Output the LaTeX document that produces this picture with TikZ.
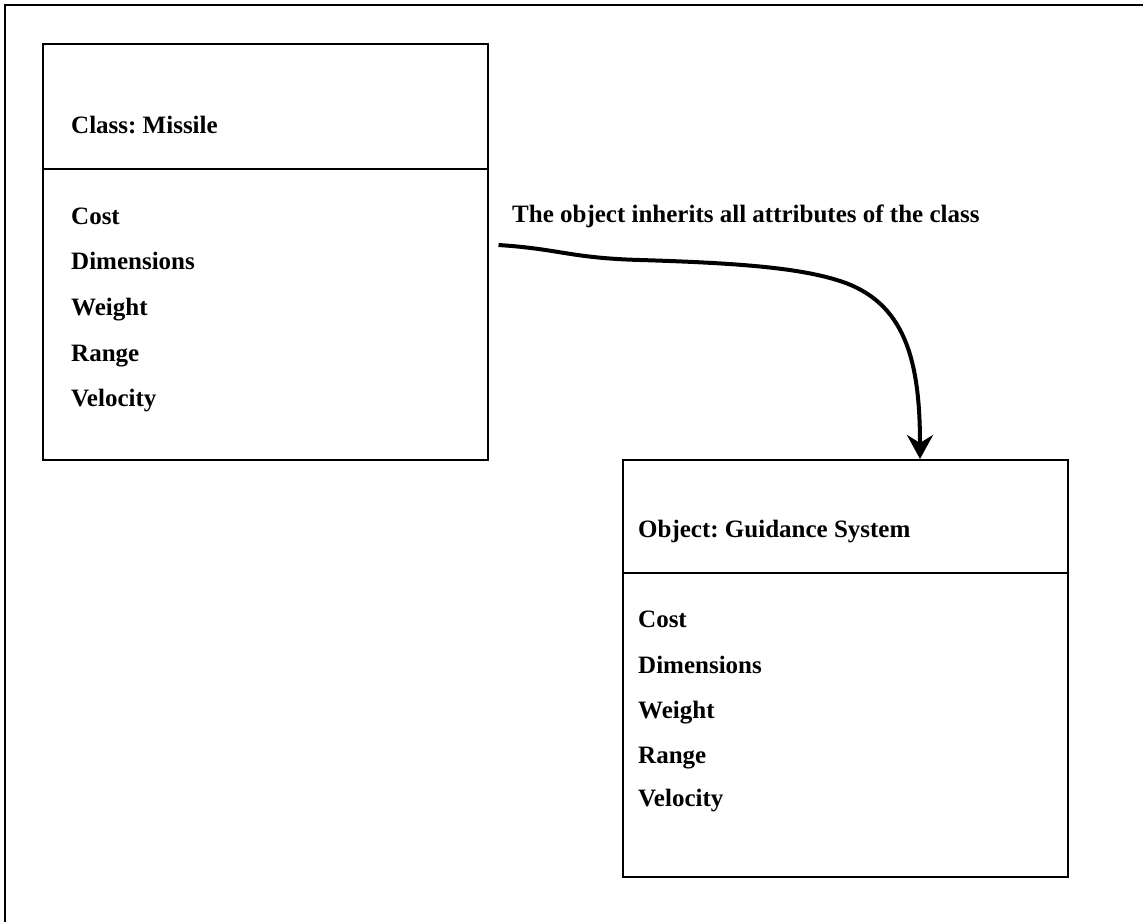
\documentclass[tikz,border=0pt]{standalone}
\usepackage{fontspec}
\setmainfont{Liberation Serif}
\usetikzlibrary{arrows.meta}
\frenchspacing
\begin{document}
\begin{tikzpicture}[x=1pt,y=-1pt,
  frame/.style={line width=2pt},
  umlbox/.style={draw,line width=1.5pt,rectangle,anchor=north west,inner sep=0pt},
  divider/.style={line width=1.5pt},
  label/.style={anchor=base west,inner sep=0pt,font=\fontsize{25}{30}\selectfont\bfseries},
  inherit/.style={line width=4pt,-{Stealth[length=24pt,width=26pt,inset=8pt]}}]
\useasboundingbox (0,0) rectangle (1143,922);
% outer frame, cut off at the right and bottom edges
\draw[frame] (5,922) -- (5,5) -- (1143,5);

% class box
\node[umlbox,minimum width=445pt,minimum height=416pt] (cls) at (42,43) {};
\draw[divider] (42,169) -- (487,169);
\node[label] (clsname) at (71,133) {Class: Missile};
\node[label] (c1) at (71,224) {Cost};
\node[label] (c2) at (71,269) {Dimensions};
\node[label] (c3) at (71,315) {Weight};
\node[label] (c4) at (71,361) {Range};
\node[label] (c5) at (71,406) {Velocity};

% object box
\node[umlbox,minimum width=445pt,minimum height=417pt] (obj) at (622,459) {};
\draw[divider] (622,573) -- (1067,573);
\node[label] (objname) at (638,537) {Object: Guidance System};
\node[label] (o1) at (638,627) {Cost};
\node[label] (o2) at (638,673) {Dimensions};
\node[label] (o3) at (638,718) {Weight};
\node[label] (o4) at (638,763) {Range};
\node[label] (o5) at (638,806) {Velocity};

% inheritance connector
\node[label] (note) at (512,222) {The object inherits all attributes of the class};
\coordinate (tail) at ([xshift=10pt,yshift=-(245-43)*1pt]cls.north east);
\coordinate (head) at ([xshift=298pt]obj.north west);
\draw[inherit] (tail) .. controls (560,249) and (570,258) .. (640,260)
  .. controls (740,263) and (800,268) .. (840,281)
  .. controls (905,302) and (920,360) .. (head);
\end{tikzpicture}
\end{document}
